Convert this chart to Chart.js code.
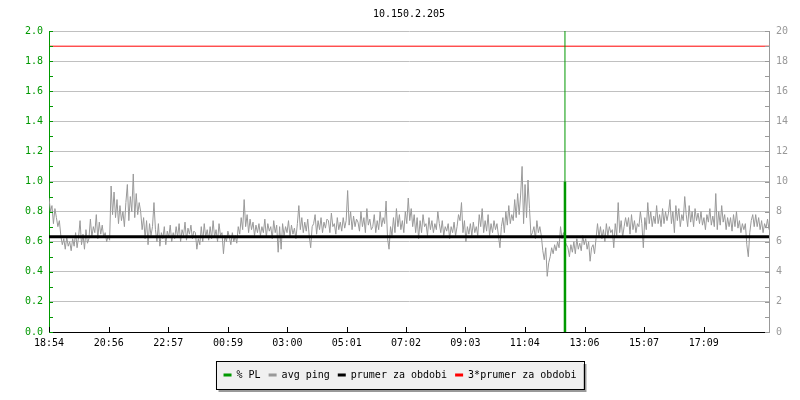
<!DOCTYPE html>
<html>
<head>
<meta charset="utf-8">
<script src="https://cdn.jsdelivr.net/npm/chart.js@4.4.1/dist/chart.umd.min.js"></script>
<style>
  html, body { margin: 0; padding: 0; background: #fff; }
  #wrap { width: 800px; height: 400px; }
</style>
</head>
<body>
<div id="wrap"><canvas id="ping-chart"></canvas></div>
<script>
// --- data ---
const chartTitle = '10.150.2.205'
const tickMinutes = [0, 122, 243, 365, 486, 607, 728, 849, 970, 1092, 1213, 1335] // minutes after 18:54
const tickLabels = ['18:54', '20:56', '22:57', '00:59', '03:00', '05:01', '07:02', '09:03', '11:04', '13:06', '15:07', '17:09']
const spanMinutes = 1468

// avg ping (ms), evenly sampled over the whole span
const avgPing = [
  0.89, 0.80, 0.84, 0.72, 0.82, 0.76, 0.70, 0.74,
  0.64, 0.58, 0.62, 0.55, 0.63, 0.57, 0.60, 0.54, 0.62, 0.57,
  0.66, 0.56, 0.63, 0.74, 0.58, 0.65, 0.55, 0.68, 0.59, 0.62,
  0.75, 0.63, 0.70, 0.66, 0.78, 0.62, 0.73, 0.65, 0.71, 0.63,
  0.66, 0.60, 0.64, 0.61,
  0.97, 0.78, 0.93, 0.76, 0.88, 0.72, 0.84, 0.74, 0.80, 0.70,
  0.86, 0.98, 0.74, 0.90, 0.80, 1.05, 0.76, 0.92, 0.78, 0.86,
  0.80, 0.68, 0.76, 0.62, 0.74, 0.58, 0.72, 0.64, 0.70, 0.86,
  0.68, 0.60, 0.72, 0.57, 0.66, 0.62, 0.70, 0.58, 0.67, 0.63, 0.71, 0.60, 0.66, 0.62,
  0.70, 0.63, 0.72, 0.60, 0.68, 0.64, 0.73, 0.61, 0.69, 0.65, 0.71, 0.62, 0.67,
  0.66, 0.55, 0.62, 0.58, 0.70, 0.60, 0.72, 0.63, 0.68, 0.61,
  0.70, 0.62, 0.74, 0.63, 0.68, 0.60, 0.72, 0.64, 0.66, 0.52, 0.64, 0.60, 0.67,
  0.63, 0.58, 0.66, 0.60, 0.64, 0.59, 0.70, 0.65, 0.76, 0.68,
  0.88, 0.70, 0.78, 0.66, 0.75, 0.68, 0.73, 0.64, 0.71, 0.66,
  0.72, 0.64, 0.70, 0.66, 0.75, 0.63, 0.72, 0.67, 0.70, 0.62, 0.74, 0.66, 0.71,
  0.53, 0.70, 0.55, 0.72, 0.64, 0.70, 0.66, 0.74, 0.63, 0.71, 0.65, 0.69, 0.62, 0.72,
  0.84, 0.68, 0.76, 0.66, 0.73, 0.67, 0.75, 0.64, 0.56, 0.70,
  0.72, 0.78, 0.65, 0.74, 0.68, 0.76, 0.66, 0.73, 0.69, 0.75,
  0.74, 0.66, 0.79, 0.70, 0.72, 0.65, 0.76, 0.68, 0.73, 0.67,
  0.76, 0.69, 0.74, 0.94, 0.71, 0.80, 0.68, 0.77, 0.70, 0.75,
  0.73, 0.67, 0.80, 0.70, 0.76, 0.66, 0.82, 0.71, 0.75, 0.68,
  0.70, 0.78, 0.66, 0.74, 0.68, 0.80, 0.70, 0.76, 0.72, 0.87,
  0.62, 0.55, 0.70, 0.64, 0.76, 0.66, 0.82, 0.70, 0.78, 0.68, 0.74, 0.66, 0.80, 0.72,
  0.89, 0.74, 0.82, 0.70, 0.78, 0.66, 0.76,
  0.62, 0.74, 0.66, 0.78, 0.70, 0.72, 0.64, 0.76, 0.68, 0.74, 0.66, 0.72, 0.68, 0.80,
  0.72, 0.66, 0.74, 0.64, 0.70, 0.67, 0.72, 0.62, 0.70, 0.66, 0.73, 0.64, 0.70, 0.78,
  0.74, 0.86, 0.66, 0.74, 0.60, 0.70, 0.65, 0.72, 0.64, 0.73, 0.66, 0.70, 0.64, 0.78,
  0.70, 0.82, 0.66, 0.74, 0.67, 0.78, 0.64, 0.72, 0.66, 0.74, 0.68, 0.72, 0.64, 0.56,
  0.70, 0.76, 0.66, 0.80, 0.71, 0.84, 0.72, 0.78, 0.74, 0.88, 0.76, 0.92, 0.78, 0.91,
  1.10, 0.72, 0.98, 0.76, 1.01, 0.82, 0.64,
  0.66, 0.70, 0.62, 0.74, 0.66, 0.70, 0.64,
  0.54, 0.48, 0.56, 0.37, 0.46, 0.50, 0.56,
  0.52, 0.58, 0.54, 0.60, 0.56, 0.70, 0.62, 0.66, 0.60, 0.58,
  0.56, 0.50, 0.58, 0.53, 0.60, 0.52, 0.62, 0.55, 0.59, 0.54,
  0.64, 0.58, 0.62, 0.55, 0.60, 0.47, 0.56, 0.58, 0.52, 0.62,
  0.72, 0.63, 0.70, 0.62, 0.68, 0.60, 0.72, 0.64, 0.70, 0.66,
  0.68, 0.56, 0.72, 0.64, 0.86, 0.66, 0.74, 0.63, 0.70, 0.76,
  0.70, 0.76, 0.65, 0.78, 0.68, 0.74, 0.66, 0.72, 0.70, 0.80,
  0.72, 0.56, 0.76, 0.68, 0.86, 0.72, 0.80, 0.70, 0.77, 0.72,
  0.84, 0.72, 0.78, 0.70, 0.82, 0.72, 0.80, 0.74, 0.79, 0.88,
  0.72, 0.80, 0.66, 0.84, 0.74, 0.82, 0.70, 0.78, 0.74, 0.90,
  0.78, 0.70, 0.84, 0.73, 0.80, 0.70, 0.82, 0.74, 0.79, 0.72,
  0.80, 0.71, 0.76, 0.68, 0.78, 0.73, 0.82, 0.71, 0.77, 0.70,
  0.92, 0.68, 0.80, 0.71, 0.84, 0.73, 0.78, 0.68, 0.76, 0.70,
  0.76, 0.67, 0.78, 0.70, 0.80, 0.69, 0.74, 0.66, 0.72, 0.68,
  0.72, 0.58, 0.50, 0.66, 0.74, 0.78, 0.70,
  0.78, 0.70, 0.76, 0.68, 0.74, 0.66, 0.72, 0.69, 0.75, 0.68
]
const prumer = 0.633      // prumer za obdobi
const prumer3 = 1.899     // 3*prumer za obdobi
const plMinute = 1052     // packet loss event (~12:26)
const plValue = 10        // % PL, right axis
const plMax = 20

const monoFont = { family: "'DejaVu Sans Mono', monospace", size: 10 }
const GREEN = '#009900'

// ---- helpers ----
const step = spanMinutes / (avgPing.length - 1)
const pingPoints = avgPing.map((v, i) => ({ x: i * step, y: v }))

// small inner tick marks like the rrd style graph
const minorTicks = {
  id: 'minorTicks',
  afterDraw(chart) {
    const { ctx, chartArea } = chart
    const y = chart.scales.y, y2 = chart.scales.y2, x = chart.scales.x
    ctx.save()
    ctx.lineWidth = 1
    ctx.strokeStyle = GREEN
    for (let i = 0; i <= 20; i++) {
      const py = Math.round(y.getPixelForValue(i / 10)) + 0.5
      ctx.beginPath(); ctx.moveTo(chartArea.left, py); ctx.lineTo(chartArea.left + 4, py); ctx.stroke()
    }
    ctx.strokeStyle = '#999999'
    for (let i = 0; i <= plMax; i++) {
      const py = Math.round(y2.getPixelForValue(i)) + 0.5
      ctx.beginPath(); ctx.moveTo(chartArea.right - 4, py); ctx.lineTo(chartArea.right, py); ctx.stroke()
    }
    ctx.strokeStyle = '#000000'
    tickMinutes.forEach(t => {
      const px = Math.round(x.getPixelForValue(t)) + 0.5
      ctx.beginPath(); ctx.moveTo(px, chartArea.bottom); ctx.lineTo(px, chartArea.bottom - 5); ctx.stroke()
    })
    ctx.restore()
  }
}

// framed grey box with a shadow behind the legend
const legendBox = {
  id: 'legendBox',
  beforeDraw(chart) {
    const boxes = chart.legend && chart.legend.legendHitBoxes
    if (!boxes || !boxes.length) return
    const left = Math.min(...boxes.map(b => b.left)) - 8
    const right = Math.max(...boxes.map(b => b.left + b.width)) + 7
    const top = boxes[0].top - 9
    const bottom = boxes[0].top + boxes[0].height + 9
    const ctx = chart.ctx
    ctx.save()
    ctx.fillStyle = '#999999'
    ctx.fillRect(left + 3, top + 3, right - left, bottom - top)
    ctx.fillStyle = '#f0f0f0'
    ctx.fillRect(left, top, right - left, bottom - top)
    ctx.strokeStyle = '#000000'
    ctx.lineWidth = 1
    ctx.strokeRect(Math.round(left) + 0.5, Math.round(top) + 0.5, Math.round(right - left), Math.round(bottom - top))
    ctx.restore()
  }
}

const canvas = document.getElementById('ping-chart')
const ctx = canvas.getContext('2d')

const chart = new Chart(ctx, {
  type: 'line',
  data: {
    datasets: [
      {
        label: '% PL',
        data: [{ x: plMinute, y: 0 }, { x: plMinute, y: plValue }],
        yAxisID: 'y2',
        borderColor: GREEN,
        backgroundColor: GREEN,
        borderWidth: 2.5,
        order: 0,
      },
      {
        label: 'avg ping',
        data: pingPoints,
        yAxisID: 'y',
        borderColor: '#999999',
        backgroundColor: '#999999',
        borderWidth: 1,
        order: 3,
      },
      {
        label: 'prumer za obdobi',
        data: [{ x: 0, y: prumer }, { x: spanMinutes, y: prumer }],
        yAxisID: 'y',
        borderColor: '#000000',
        backgroundColor: '#000000',
        borderWidth: 3,
        order: 2,
      },
      {
        label: '3*prumer za obdobi',
        data: [{ x: 0, y: prumer3 }, { x: spanMinutes, y: prumer3 }],
        yAxisID: 'y',
        borderColor: '#ff0000',
        backgroundColor: '#ff0000',
        borderWidth: 1,
        order: 2,
      },
      {
        label: 'plMarker',
        data: [{ x: plMinute, y: plValue }, { x: plMinute, y: plMax }],
        yAxisID: 'y2',
        borderColor: GREEN,
        borderWidth: 1,
        order: 1,
      },
    ],
  },
  options: {
    responsive: true,
    maintainAspectRatio: false,
    animation: false,
    elements: { point: { radius: 0 }, line: { tension: 0 } },
    layout: { padding: { left: 0, right: 0, top: 0, bottom: 10 } },
    plugins: {
      title: {
        display: true,
        text: chartTitle,
        color: '#000',
        font: { ...monoFont, weight: 'normal' },
        fullSize: false,
        padding: { top: 8, bottom: 11 },
      },
      legend: {
        position: 'bottom',
        labels: {
          font: monoFont,
          color: '#000',
          boxWidth: 8,
          boxHeight: 3,
          padding: 8,
          filter: (item) => item.text !== 'plMarker',
          generateLabels: (c) => c.data.datasets.map((ds, i) => ({
            text: ds.label,
            fillStyle: ds.borderColor,
            strokeStyle: ds.borderColor,
            lineWidth: 0,
            datasetIndex: i,
          })),
        },
      },
      tooltip: { enabled: false },
    },
    scales: {
      x: {
        type: 'linear',
        min: 0,
        max: spanMinutes,
        afterBuildTicks: (s) => { s.ticks = tickMinutes.map(v => ({ value: v })) },
        afterFit: (s) => { s.height = 30 },
        grid: { drawOnChartArea: false, drawTicks: false },
        border: { color: '#000', width: 1 },
        ticks: {
          autoSkip: false,
          maxRotation: 0,
          padding: 5,
          color: '#000',
          font: monoFont,
          callback: (v) => tickLabels[tickMinutes.indexOf(v)],
        },
      },
      y: {
        position: 'left',
        min: 0,
        max: 2,
        afterFit: (s) => { s.width = 49 },
        grid: { color: '#c0c0c0', drawTicks: false },
        border: { color: GREEN, width: 1 },
        ticks: {
          stepSize: 0.2,
          padding: 6,
          color: GREEN,
          font: monoFont,
          callback: (v) => v.toFixed(1),
        },
      },
      y2: {
        position: 'right',
        min: 0,
        max: plMax,
        afterFit: (s) => { s.width = 31 },
        grid: { drawOnChartArea: false, drawTicks: false },
        border: { color: '#999999', width: 1 },
        ticks: {
          stepSize: 2,
          padding: 7,
          color: '#999999',
          font: monoFont,
        },
      },
    },
  },
  plugins: [legendBox, minorTicks],
})
</script>
</body>
</html>
